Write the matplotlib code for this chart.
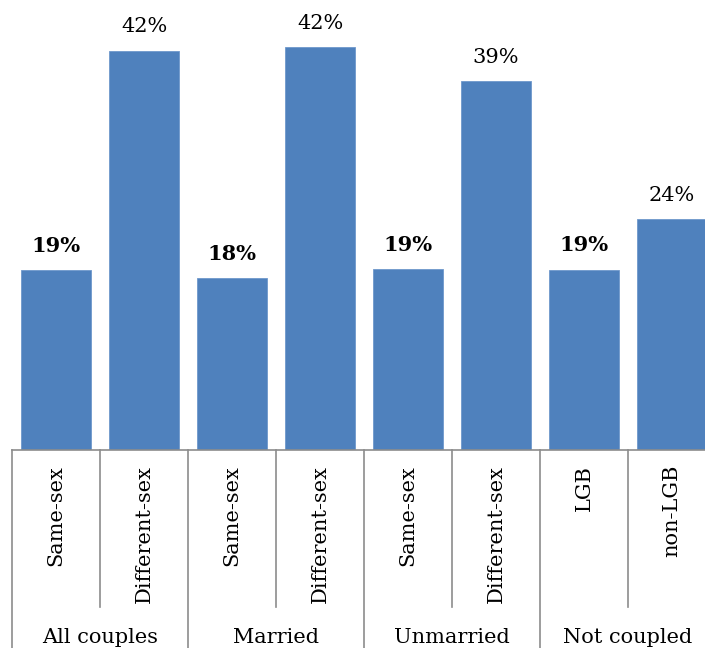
import matplotlib
matplotlib.use("Agg")
import matplotlib.pyplot as plt
import matplotlib.transforms as mtransforms

# chart data
groups = ["All couples", "Married", "Unmarried", "Not coupled"]
sub_labels = ["Same-sex", "Different-sex", "Same-sex", "Different-sex",
              "Same-sex", "Different-sex", "LGB", "non-LGB"]
values = [18.9, 42.05, 18.15, 42.45, 19.05, 38.8, 19.0, 24.35]

plt.rcParams["font.family"] = ["DejaVu Serif"]

W, H = 705, 648
fig = plt.figure(figsize=(W / 100, H / 100), dpi=100)
base_px = 450  # baseline, pixels from top
ax = fig.add_axes([12 / W, (H - base_px) / H, 1 - 12 / W, base_px / H])

n = len(values)
x = list(range(n))
ax.bar(x, values, width=0.8, color="#4F81BD", edgecolor="#6F98CC", linewidth=0.6)

ax.set_xlim(-0.5, -0.5 + (W - 12) / 88)
ax.set_ylim(0, base_px / 9.5)
ax.axis("off")

# value labels, same-sex / LGB in bold
for i, v in enumerate(values):
    ax.annotate(f"{round(v)}%", (i, v), xytext=(0, 13), textcoords="offset points",
                ha="center", va="baseline", fontsize=15,
                fontweight="bold" if i % 2 == 0 else "normal")

grey = "#8C8C8C"
trans = mtransforms.blended_transform_factory(ax.transData, ax.transAxes)
ax.axhline(0, color=grey, lw=1.2, clip_on=False)

def frac(px):
    return -px / base_px

# separators
for k in range(n + 1):
    xs = k - 0.5
    y_end = frac(H - base_px) if k % 2 == 0 else frac(157)
    ax.plot([xs, xs], [0, y_end], transform=trans, color=grey, lw=1.2, clip_on=False)

# category labels
for i, lab in enumerate(sub_labels):
    ax.text(i, frac(15), lab, transform=trans, rotation=90, ha="center", va="top",
            fontsize=15)

for g, name in enumerate(groups):
    ax.text(2 * g + 0.5, frac(193), name, transform=trans, ha="center",
            va="baseline", fontsize=15)

fig.savefig("out.png", dpi=100)
